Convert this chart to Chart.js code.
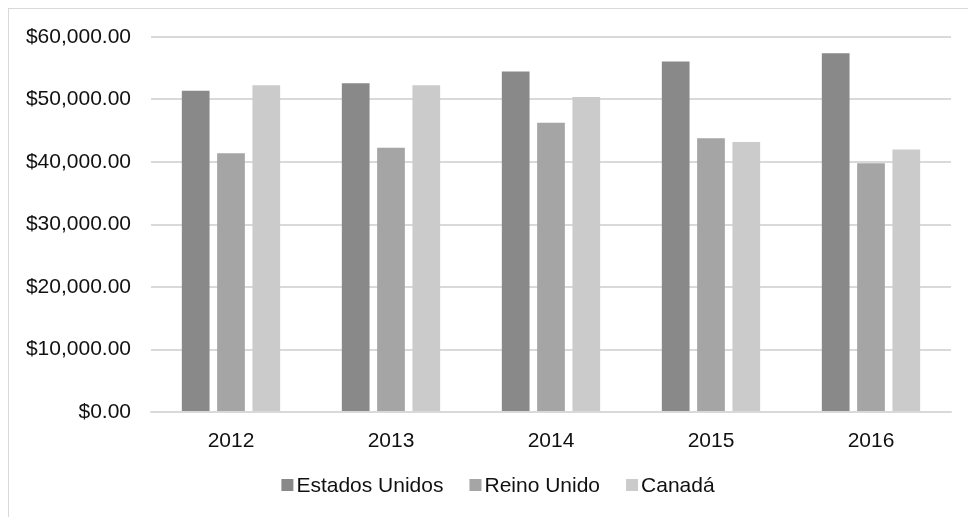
<!DOCTYPE html>
<html>
<head>
<meta charset="utf-8">
<script src="https://cdn.jsdelivr.net/npm/chart.js@4"></script>
<style>
    html, body { margin: 0; padding: 0; background: #ffffff; }
    canvas { display: block; }
</style>
</head>
<body>
<canvas id="chart" width="968" height="517"></canvas>
<script>
// Data
const years = ['2012', '2013', '2014', '2015', '2016'];
const estadosUnidos = [51400, 52600, 54500, 56100, 57400];
const reinoUnido = [41400, 42300, 46300, 43800, 39800];
const canada = [52300, 52300, 50400, 43200, 42000];
const yTicks = [0, 10000, 20000, 30000, 40000, 50000, 60000];

const fontFamily = '"Liberation Sans", Arial, sans-serif';
const textColor = '#111111';
const lineColor = '#d9d9d9';

function money(v) {
    return '$' + v.toLocaleString('en-US', { minimumFractionDigits: 2, maximumFractionDigits: 2 });
}

// white background + thin frame around the whole chart
const framePlugin = {
    id: 'frame',
    beforeDraw(chart) {
        const ctx = chart.ctx;
        ctx.save();
        ctx.fillStyle = '#ffffff';
        ctx.fillRect(0, 0, chart.width, chart.height);
        ctx.strokeStyle = lineColor;
        ctx.lineWidth = 1;
        ctx.strokeRect(8.5, 8.5, chart.width + 20, chart.height + 20);
        ctx.restore();
    }
};

// legend with small square and tight spacing, centered under the plot
const legendPlugin = {
    id: 'tightLegend',
    afterDraw(chart) {
        const ctx = chart.ctx;
        const box = 12;
        const gap = 3;
        const itemGap = 26;
        const centerX = 498;
        const centerY = 485;
        ctx.save();
        ctx.font = '21px ' + fontFamily;
        ctx.textBaseline = 'middle';
        let total = 0;
        const widths = chart.data.datasets.map(ds => ctx.measureText(ds.label).width);
        widths.forEach((w, i) => { total += box + gap + w + (i > 0 ? itemGap : 0); });
        let x = centerX - total / 2;
        chart.data.datasets.forEach((ds, i) => {
            ctx.fillStyle = ds.backgroundColor;
            ctx.fillRect(x, centerY - box / 2, box, box);
            ctx.fillStyle = textColor;
            ctx.fillText(ds.label, x + box + gap, centerY + 1);
            x += box + gap + widths[i] + itemGap;
        });
        ctx.restore();
    }
};

const ctx = document.getElementById('chart');
new Chart(ctx, {
    type: 'bar',
    data: {
        labels: years,
        datasets: [
            { label: 'Estados Unidos', data: estadosUnidos, backgroundColor: '#898989' },
            { label: 'Reino Unido', data: reinoUnido, backgroundColor: '#a5a5a5' },
            { label: 'Canadá', data: canada, backgroundColor: '#cbcbcb' }
        ]
    },
    options: {
        responsive: false,
        animation: false,
        layout: { padding: { left: 0, right: 17, top: 37, bottom: 55 } },
        datasets: {
            bar: { categoryPercentage: 0.662, barPercentage: 0.785 }
        },
        plugins: {
            legend: { display: false },
            tooltip: { enabled: false }
        },
        scales: {
            x: {
                grid: { display: false },
                border: { display: true, color: lineColor, width: 1.5 },
                ticks: {
                    color: textColor,
                    font: { family: fontFamily, size: 21 },
                    padding: 9,
                    maxRotation: 0
                },
                afterFit: function (s) { s.height = 50; }
            },
            y: {
                min: 0,
                max: 60000,
                afterBuildTicks: function (s) { s.ticks = yTicks.map(v => ({ value: v })); },
                grid: { color: lineColor, lineWidth: 2, drawTicks: false },
                border: { display: false },
                ticks: {
                    color: textColor,
                    font: { family: fontFamily, size: 21 },
                    padding: 20,
                    callback: function (v) { return money(v); }
                },
                afterFit: function (s) { s.width = 151; }
            }
        }
    },
    plugins: [framePlugin, legendPlugin]
});
</script>
</body>
</html>
